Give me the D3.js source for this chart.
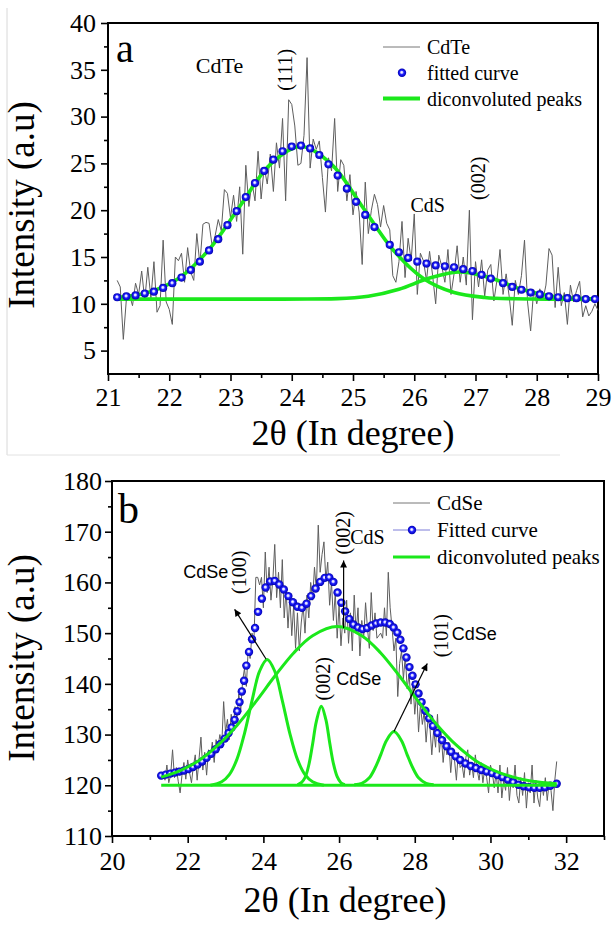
<!DOCTYPE html>
<html><head><meta charset="utf-8">
<script src="https://cdn.jsdelivr.net/npm/d3@7"></script>
<style>body{margin:0;background:#fff}</style>
</head><body>
<svg id="c" width="612" height="925"></svg>
<script>
// ---------------- DATA: panel a ----------------
const scanA_start = 21.15, scanA_step = 0.05;
const scanA = [
12.5,11.8,6.2,10.5,11.0,9.8,12.2,11.0,13.5,10.4,
13.9,10.6,14.5,9.1,9.8,16.8,10.2,9.4,7.8,15.0,
14.6,15.4,12.3,16.0,13.4,12.5,17.5,14.2,18.5,18.7,
18.6,16.2,17.3,19.0,17.8,22.2,21.8,19.2,21.6,18.8,
22.5,15.3,24.8,20.4,23.0,21.0,26.3,21.2,24.6,22.8,
26.0,22.0,27.2,24.5,29.8,21.0,31.8,31.3,29.0,24.8,
25.0,28.0,36.3,24.5,27.6,26.5,27.4,23.5,19.8,25.6,
24.2,29.8,22.0,25.4,24.8,21.0,23.8,19.5,22.0,19.8,
14.2,23.0,17.5,20.0,21.7,20.6,18.2,20.5,18.6,17.9,
13.0,12.3,14.5,18.8,12.8,17.0,14.6,19.6,11.0,15.4,
14.6,12.5,15.6,13.0,10.0,15.2,14.0,12.3,15.8,11.0,
13.2,16.2,12.3,15.0,12.0,20.0,8.3,14.5,11.8,14.7,
10.8,13.6,14.2,10.3,12.5,15.8,11.0,13.2,10.8,7.7,
12.5,11.0,13.0,16.8,10.2,7.1,11.5,10.0,11.6,10.4,
12.0,15.9,15.2,9.6,13.9,9.8,11.2,7.8,12.0,10.2,
11.4,12.4,8.6,9.8,8.7,9.2,10.0,9.3];
const fitA_x = [21.15,21.30,21.45,21.60,21.75,21.90,22.05,22.20,22.35,22.50,22.65,22.80,22.95,23.10,23.25,23.40,23.55,23.70,23.85,24.00,24.15,24.30,24.45,24.60,24.75,24.90,25.05,25.20,25.35,25.60,25.75,25.90,26.05,26.20,26.35,26.50,26.65,26.80,26.95,27.10,27.25,27.45,27.60,27.75,27.90,28.05,28.20,28.35,28.50,28.65,28.80,28.95];
const fitA_y = [10.7,10.8,10.9,11.1,11.3,11.7,12.2,12.8,13.6,14.5,15.7,16.9,18.4,19.9,21.4,22.9,24.2,25.4,26.3,26.8,26.9,26.6,25.9,24.9,23.7,22.3,20.9,19.5,18.2,16.3,15.5,14.9,14.5,14.3,14.1,14.0,13.9,13.7,13.5,13.1,12.7,12.2,11.8,11.5,11.2,11.0,10.8,10.7,10.6,10.6,10.5,10.5];
const peakA1_x = [21.15,21.65,22.15,22.65,23.15,23.65,24.15,24.65,25.15,25.65,26.15,26.65,27.15,27.65,28.3,29.0];
const peakA1_y = [10.68,11.2,12.7,15.8,20.4,24.9,26.8,24.9,20.4,15.8,12.7,11.2,10.68,10.54,10.5,10.5];
const peakA2_x = [21.15,23.5,24.25,24.75,25.25,25.75,26.25,26.75,27.25,27.75,28.25,28.75,29.0];
const peakA2_y = [10.5,10.5,10.51,10.55,10.8,11.55,12.75,13.4,12.75,11.55,10.8,10.55,10.5];
const xTicksA = [21,22,23,24,25,26,27,28,29];
const yTicksA = [5,10,15,20,25,30,35,40];

// ---------------- DATA: panel b ----------------
const scanB_start = 21.35, scanB_step = 0.05;
const scanB = [
122.5,121.0,124.0,120.5,122.0,127.0,121.5,123.5,120.8,118.5,
122.0,124.5,121.2,125.0,122.5,120.5,123.8,126.0,121.0,125.2,
129.5,123.0,126.5,122.0,127.0,125.5,128.5,124.5,129.0,127.5,
130.0,128.0,136.5,130.5,133.0,129.0,134.0,131.0,135.5,133.0,
138.0,134.5,140.5,143.0,139.5,147.0,145.0,150.0,148.5,161.0,
161.0,159.5,161.0,155.0,166.0,158.0,163.0,156.5,160.5,167.5,
157.0,162.0,155.0,164.5,153.0,158.5,151.0,157.0,149.5,155.5,
147.0,154.0,146.5,152.0,155.5,150.0,157.5,153.0,160.0,156.5,
163.0,158.5,171.3,162.0,165.5,168.0,160.5,164.0,155.5,160.0,
152.5,158.0,149.0,155.5,147.5,153.0,150.0,156.5,148.0,154.0,
146.5,157.5,150.0,155.0,145.5,152.5,149.0,156.0,151.0,147.0,
158.0,150.5,154.0,149.0,149.5,150.0,149.0,155.0,149.5,162.0,
155.0,151.0,146.5,149.0,137.5,144.0,146.5,141.0,145.5,139.0,
142.0,136.0,140.5,134.0,138.5,130.5,136.0,132.0,134.5,128.5,
133.0,131.5,126.0,131.0,127.5,134.0,126.5,130.0,124.5,128.5,
126.0,128.5,122.5,127.0,125.0,121.0,126.5,123.5,124.0,121.5,
125.5,127.0,122.0,124.5,121.5,126.0,123.0,121.0,124.5,120.5,
123.5,121.5,118.5,124.0,122.5,119.5,122.5,118.5,124.0,117.5,
121.0,119.0,123.5,117.0,121.5,119.5,124.0,118.0,116.5,121.5,
118.0,122.5,115.5,120.5,118.5,124.0,116.5,121.0,117.5,115.8,
120.5,118.0,121.5,117.0,120.5,119.0,115.0,121.0,124.7];
const fitB_x = [21.30,21.42,21.54,21.66,21.78,21.90,22.02,22.14,22.26,22.38,22.50,22.62,22.74,22.86,22.98,23.08,23.16,23.24,23.31,23.37,23.43,23.49,23.55,23.62,23.70,23.78,23.86,23.96,24.06,24.18,24.30,24.42,24.54,24.66,24.78,24.90,25.02,25.14,25.26,25.38,25.50,25.62,25.74,25.85,25.96,26.06,26.16,26.27,26.38,26.50,26.62,26.74,26.86,26.98,27.10,27.22,27.34,27.44,27.54,27.62,27.70,27.78,27.86,27.94,28.02,28.10,28.18,28.28,28.38,28.48,28.60,28.72,28.84,28.96,29.08,29.20,29.34,29.48,29.62,29.76,29.90,30.04,30.18,30.32,30.46,30.60,30.74,30.88,31.02,31.16,31.30,31.44,31.58,31.75];
const fitB_y = [121.9,122.1,122.3,122.5,122.7,122.9,123.2,123.6,124.1,124.7,125.4,126.2,127.1,128.1,129.2,130.3,131.4,132.9,134.6,136.4,138.5,140.6,143.6,146.3,148.8,151.0,154.2,156.8,159.0,160.2,160.3,159.6,158.6,157.3,156.1,155.2,155.0,155.8,157.3,158.8,160.1,160.9,161.0,160.1,158.0,156.0,154.3,152.8,151.7,151.1,150.8,151.0,151.5,151.9,152.1,152.1,151.8,151.1,150.1,148.7,147.0,145.2,143.3,141.6,139.9,138.1,136.4,134.7,133.2,131.7,130.3,128.9,127.7,126.6,125.7,125.0,124.3,123.8,123.4,123.0,122.7,122.4,122.0,121.6,121.1,120.6,120.1,119.8,119.6,119.5,119.5,119.6,119.9,120.3];
const baseB_x = [21.3,31.75];
const baseB_y = [120,120];
const broadB_x = [21.3,21.8,22.3,22.8,23.3,23.8,24.3,24.8,25.3,25.95,26.6,27.1,27.6,28.1,28.6,29.1,29.6,30.1,30.6,31.1,31.75];
const broadB_y = [121.6,122.9,124.9,127.9,131.8,136.5,141.5,146.1,149.5,151.3,149.5,146.1,141.5,136.5,131.8,127.9,124.9,122.9,121.6,120.8,120.3];
const p100_x = [22.6,22.9,23.1,23.3,23.5,23.7,23.9,24.1,24.3,24.5,24.7,24.9,25.1,25.3,25.6];
const p100_y = [120.0,120.7,122.1,125.1,130.2,136.7,142.5,144.8,142.5,136.7,130.2,125.1,122.1,120.7,120.0];
const p002_x = [24.9,25.0,25.1,25.2,25.3,25.4,25.53,25.65,25.75,25.85,25.95,26.05,26.15];
const p002_y = [120.1,120.5,121.5,124.0,128.1,132.6,135.6,133.0,128.5,124.3,121.7,120.5,120.1];
const p101_x = [26.4,26.6,26.8,26.95,27.1,27.25,27.45,27.65,27.8,27.95,28.1,28.3,28.5];
const p101_y = [120.1,120.4,121.5,123.4,126.0,128.8,130.6,128.8,126.0,123.4,121.5,120.4,120.1];
const xTicksB = [20,22,24,26,28,30,32];
const yTicksB = [110,120,130,140,150,160,170,180];

// ---------------- DRAWING ----------------
const SERIF = "'Liberation Serif','Times New Roman',serif";
const SANS = "'Liberation Sans',Arial,sans-serif";
const GREEN = "#1be81b", GRAY = "#5e5e5e";
const svg = d3.select("#c");
const defs = svg.append("defs");
const gr = defs.append("radialGradient").attr("id","ball").attr("cx","50%").attr("cy","50%").attr("r","50%").attr("fx","45%").attr("fy","42%");
[["0%","#ffffff"],["25%","#d0d0ff"],["50%","#2020ff"],["100%","#0000b0"]].forEach(s=>gr.append("stop").attr("offset",s[0]).attr("stop-color",s[1]));
defs.append("marker").attr("id","arr").attr("viewBox","0 0 10 10").attr("refX",10).attr("refY",5)
  .attr("markerWidth",10).attr("markerHeight",7).attr("markerUnits","userSpaceOnUse").attr("orient","auto")
  .append("path").attr("d","M0,0L10,5L0,10z").attr("fill","#000");

// faint image border lines
svg.append("line").attr("x1",7).attr("x2",7).attr("y1",8).attr("y2",455).attr("stroke","#d8d8d8").attr("stroke-width",1);
svg.append("line").attr("x1",7).attr("x2",560).attr("y1",455).attr("y2",455).attr("stroke","#e2e2e2").attr("stroke-width",1);

function axes(x, y, xMajor, xMinor, yMajor, yMinor, opt){
  const [x0,x1] = x.range(), [y0,y1] = y.range();
  const g = svg.append("g");
  const style = s => { s.select(".domain").remove(); s.selectAll("line").attr("stroke","#000").attr("stroke-width",1.6);
    s.selectAll("text").attr("font-family",SERIF).attr("font-size",opt.tickFont).attr("fill","#000"); };
  g.append("g").attr("transform",`translate(0,${y0})`).call(d3.axisBottom(x).tickValues(xMinor).tickSize(4).tickFormat("")).call(style);
  g.append("g").attr("transform",`translate(0,${y0})`).call(d3.axisBottom(x).tickValues(xMajor).tickSize(7).tickPadding(opt.xPad).tickFormat(d3.format("d"))).call(style);
  g.append("g").attr("transform",`translate(${x0},0)`).call(d3.axisLeft(y).tickValues(yMinor).tickSize(4).tickFormat("")).call(style);
  g.append("g").attr("transform",`translate(${x0},0)`).call(d3.axisLeft(y).tickValues(yMajor).tickSize(7).tickPadding(opt.yPad).tickFormat(d3.format("d"))).call(style);
  g.append("rect").attr("x",x0).attr("y",y1).attr("width",x1-x0).attr("height",y0-y1).attr("fill","none").attr("stroke","#000").attr("stroke-width",2);
  svg.append("text").attr("x",opt.xtX).attr("y",opt.xtY).attr("text-anchor","middle").attr("font-family",SERIF).attr("font-size",36).text("2θ (In degree)");
  svg.append("text").attr("transform",`translate(${opt.ytX},${opt.ytY}) rotate(-90)`).attr("text-anchor","middle").attr("font-family",SERIF).attr("font-size",37).text("Intensity (a.u)");
}
function curve(x,y,xs,ys,color,w,c){
  const pts = xs.map((d,i)=>[d,ys[i]]);
  svg.append("path").datum(pts).attr("fill","none").attr("stroke",color).attr("stroke-width",w).attr("stroke-linejoin","round")
    .attr("d", d3.line().x(d=>x(d[0])).y(d=>y(d[1])).curve(c||d3.curveLinear));
}
function dots(x,y,xs,ys,r){
  svg.append("g").selectAll("circle").data(xs.map((d,i)=>[d,ys[i]])).join("circle")
    .attr("cx",d=>x(d[0])).attr("cy",d=>y(d[1])).attr("r",r).attr("fill","url(#ball)");
}
function label(x,y,px,py,txt,size,fam,rot,anchor){
  const t = svg.append("text").attr("font-family",fam).attr("font-size",size).attr("text-anchor",anchor||"middle").attr("dominant-baseline","central").text(txt);
  t.attr("transform",`translate(${x(px)},${y(py)})`+(rot?" rotate(-90)":""));
}
function arrow(x,y,a,b){
  svg.append("line").attr("x1",x(a[0])).attr("y1",y(a[1])).attr("x2",x(b[0])).attr("y2",y(b[1])).attr("stroke","#000").attr("stroke-width",1.2).attr("marker-end","url(#arr)");
}
function legend(items, lx, ly, dy, size){
  items.forEach((it,i)=>{
    const yy = ly + i*dy;
    if(it.type==="line"||it.type==="lineDot") svg.append("line").attr("x1",lx).attr("x2",lx+37).attr("y1",yy).attr("y2",yy).attr("stroke",it.color).attr("stroke-width",it.w);
    if(it.type==="dot"||it.type==="lineDot") svg.append("circle").attr("cx",lx+19).attr("cy",yy).attr("r",4.2).attr("fill","url(#ball)");
    svg.append("text").attr("x",lx+44).attr("y",yy).attr("dominant-baseline","central").attr("font-family",SERIF).attr("font-size",size).text(it.label);
  });
}

// ---- panel a ----
const xA = d3.scaleLinear().domain([21,29]).range([108,598]);
const yA = d3.scaleLinear().domain([2.5,40]).range([374,23]);
axes(xA,yA,xTicksA,d3.range(21.5,29,1),yTicksA,d3.range(7.5,40,5),{tickFont:26,xPad:7,yPad:5,xtX:353,xtY:445,ytX:34,ytY:205});
curve(xA,yA,scanA.map((d,i)=>scanA_start+i*scanA_step),scanA,GRAY,1);
curve(xA,yA,peakA2_x,peakA2_y,GREEN,3.6,d3.curveMonotoneX);
curve(xA,yA,peakA1_x,peakA1_y,GREEN,3.6,d3.curveCatmullRom.alpha(0.5));
dots(xA,yA,fitA_x,fitA_y,4.1);
legend([{type:"line",color:"#777",w:1,label:"CdTe"},{type:"dot",label:"fitted curve"},{type:"line",color:GREEN,w:4,label:"diconvoluted peaks"}],383,47,25.8,20);
svg.append("text").attr("x",116).attr("y",62).attr("font-family",SERIF).attr("font-size",40).text("a");
label(xA,yA,22.82,35.5,"CdTe",22,SERIF);
label(xA,yA,23.89,35.0,"(111)",20,SERIF,true);
label(xA,yA,26.22,20.6,"CdS",20,SERIF);
label(xA,yA,27.04,23.4,"(002)",20,SERIF,true);

// ---- panel b ----
const xB = d3.scaleLinear().domain([20,33]).range([112,604]);
const yB = d3.scaleLinear().domain([110,180]).range([836,481]);
axes(xB,yB,xTicksB,[21,23,25,27,29,31,33],yTicksB,[115,125,135,145,155,165,175],{tickFont:26,xPad:9,yPad:3,xtX:345,xtY:912,ytX:34,ytY:658});
curve(xB,yB,scanB.map((d,i)=>scanB_start+i*scanB_step),scanB,GRAY,1);
dots(xB,yB,fitB_x,fitB_y,4.2);
curve(xB,yB,baseB_x,baseB_y,GREEN,3);
curve(xB,yB,broadB_x,broadB_y,GREEN,3,d3.curveCatmullRom.alpha(0.5));
curve(xB,yB,p100_x,p100_y,GREEN,3,d3.curveCatmullRom.alpha(0.5));
curve(xB,yB,p002_x,p002_y,GREEN,3,d3.curveCatmullRom.alpha(0.5));
curve(xB,yB,p101_x,p101_y,GREEN,3,d3.curveCatmullRom.alpha(0.5));
legend([{type:"line",color:"#777",w:1,label:"CdSe"},{type:"lineDot",color:"#7c7cd8",w:1,label:"Fitted curve"},{type:"line",color:GREEN,w:3,label:"diconvoluted peaks"}],393,503,27,21);
svg.append("text").attr("x",118).attr("y",523).attr("font-family",SERIF).attr("font-size",42).text("b");
arrow(xB,yB,[24.07,144.9],[23.24,154.7]);
arrow(xB,yB,[26.12,151.0],[26.12,164.3]);
arrow(xB,yB,[27.45,130.6],[28.33,144.0]);
label(xB,yB,22.48,162,"CdSe",18,SANS);
label(xB,yB,23.36,162,"(100)",20,SERIF,true);
label(xB,yB,26.1,169.8,"(002)",20,SERIF,true);
label(xB,yB,26.75,168.9,"CdS",20,SERIF);
label(xB,yB,25.58,141,"(002)",20,SERIF,true);
label(xB,yB,26.52,141,"CdSe",18,SANS);
label(xB,yB,28.69,149.5,"(101)",20,SERIF,true);
label(xB,yB,29.57,149.8,"CdSe",18,SANS);
</script>
</body></html>
